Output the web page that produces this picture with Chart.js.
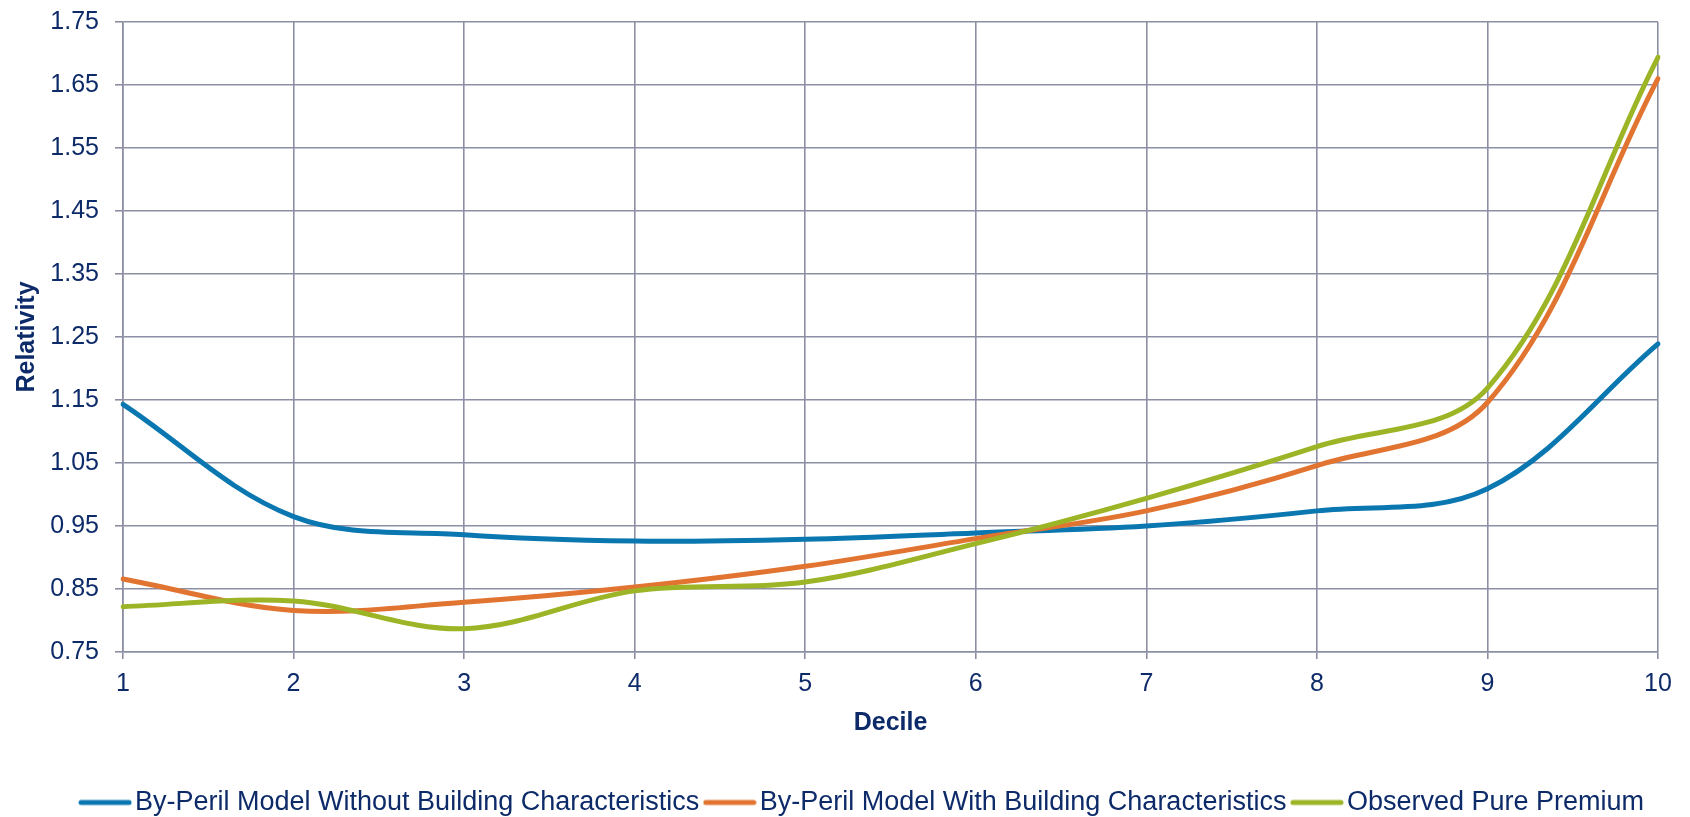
<!DOCTYPE html>
<html>
<head>
<meta charset="utf-8">
<script src="https://cdn.jsdelivr.net/npm/chart.js@4/dist/chart.umd.min.js"></script>
<style>
  html, body { margin: 0; padding: 0; background: #ffffff; }
  #wrap { width: 1690px; height: 817px; position: relative; }
</style>
</head>
<body>
<div id="wrap"><canvas id="chart"></canvas></div>
<script>
// Deciles on the horizontal axis
const deciles = [1, 2, 3, 4, 5, 6, 7, 8, 9, 10];

// Relativity by decile for each series
const withoutBuilding = [1.143, 0.965, 0.936, 0.926, 0.929, 0.939, 0.950, 0.974, 1.009, 1.239];
const withBuilding    = [0.866, 0.816, 0.829, 0.853, 0.886, 0.930, 0.974, 1.046, 1.146, 1.660];
const observedPremium = [0.822, 0.831, 0.787, 0.847, 0.861, 0.922, 0.994, 1.076, 1.169, 1.694];

// Value axis ticks
const yTicks = [0.75, 0.85, 0.95, 1.05, 1.15, 1.25, 1.35, 1.45, 1.55, 1.65, 1.75];

const seriesNames = [
  'By-Peril Model Without Building Characteristics',
  'By-Peril Model With Building Characteristics',
  'Observed Pure Premium'
];

const seriesColors = ['#0a77b0', '#e27431', '#9cb526'];

const navy = '#0d2a69';
const gridColor = '#8c8fa3';
const fontFamily = '"Liberation Sans", Arial, Helvetica, sans-serif';

// Short rounded line used as the legend swatch
function lineSwatch(color) {
  const c = document.createElement('canvas');
  c.width = 54; c.height = 8;
  const g = c.getContext('2d');
  g.strokeStyle = color;
  g.lineWidth = 5;
  g.lineCap = 'round';
  g.beginPath();
  g.moveTo(3, 4);
  g.lineTo(51, 4);
  g.stroke();
  return c;
}

function series(label, values, color, order) {
  return {
    label: label,
    data: values,
    borderColor: color,
    backgroundColor: color,
    borderWidth: 5,
    pointRadius: 0,
    pointHoverRadius: 0,
    pointStyle: lineSwatch(color),
    tension: 0.35,
    fill: false,
    borderCapStyle: 'round',
    order: order
  };
}

new Chart(document.getElementById('chart'), {
  type: 'line',
  data: {
    labels: deciles,
    datasets: [
      series(seriesNames[0], withoutBuilding, seriesColors[0], 2),
      series(seriesNames[1], withBuilding, seriesColors[1], 1),
      series(seriesNames[2], observedPremium, seriesColors[2], 0)
    ]
  },
  options: {
    responsive: true,
    maintainAspectRatio: false,
    animation: false,
    layout: { padding: { left: 0, right: 32, top: 22, bottom: -9 } },
    plugins: {
      tooltip: { enabled: false },
      legend: {
        position: 'bottom',
        align: 'end',
        labels: {
          color: navy,
          font: { family: fontFamily, size: 27, lineHeight: 1 },
          usePointStyle: true,
          pointStyleWidth: 33,
          boxHeight: 8,
          padding: 14,
          generateLabels(chart) {
            const items = Chart.defaults.plugins.legend.labels.generateLabels(chart);
            items.forEach(it => { it.lineWidth = 0; });
            return items.sort((a, b) => a.datasetIndex - b.datasetIndex);
          }
        }
      }
    },
    scales: {
      x: {
        type: 'category',
        offset: false,
        grid: { color: gridColor, lineWidth: 1.6, drawTicks: true, tickLength: 7, tickColor: gridColor },
        border: { color: gridColor, width: 1.6 },
        ticks: {
          color: navy,
          font: { family: fontFamily, size: 25 },
          padding: 10,
          maxRotation: 0,
          autoSkip: false
        },
        title: {
          display: true,
          text: 'Decile',
          color: navy,
          font: { family: fontFamily, size: 25, weight: 'bold' },
          padding: { top: 0, bottom: 37 }
        },
        afterFit(scale) { scale.height = 123; }
      },
      y: {
        type: 'linear',
        min: 0.75,
        max: 1.75,
        grid: { color: gridColor, lineWidth: 1.6, drawTicks: true, tickLength: 8, tickColor: gridColor },
        border: { color: gridColor, width: 1.6 },
        ticks: {
          color: navy,
          font: { family: fontFamily, size: 25 },
          padding: 16,
          callback: v => Number(v).toFixed(2)
        },
        afterBuildTicks(axis) { axis.ticks = yTicks.map(v => ({ value: v })); },
        title: {
          display: true,
          text: 'Relativity',
          color: navy,
          font: { family: fontFamily, size: 25, weight: 'bold' },
          padding: { top: 12, bottom: 0 }
        },
        afterFit(scale) {
          scale.width = 123;
          scale.paddingTop = 0;
          scale.paddingBottom = 0;
        }
      }
    }
  }
});
</script>
</body>
</html>
